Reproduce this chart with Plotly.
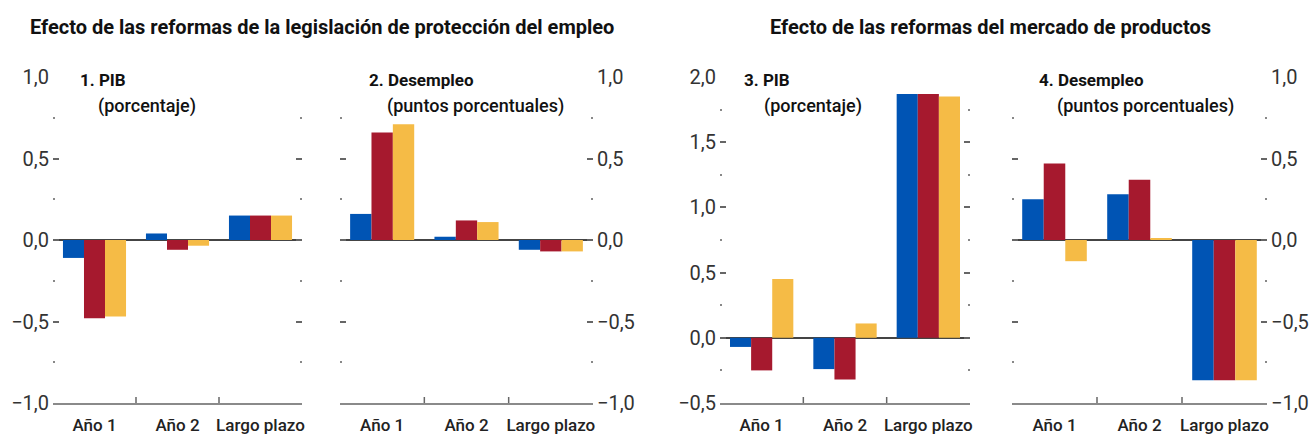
import plotly.graph_objects as go

# ---------------- data ----------------
categories = ["Año 1", "Año 2", "Largo plazo"]

p1_blue = [-0.11, 0.04, 0.15]
p1_red = [-0.48, -0.06, 0.15]
p1_yellow = [-0.47, -0.035, 0.15]

p2_blue = [0.16, 0.02, -0.06]
p2_red = [0.66, 0.12, -0.07]
p2_yellow = [0.71, 0.11, -0.07]

p3_blue = [-0.07, -0.24, 1.87]
p3_red = [-0.25, -0.32, 1.87]
p3_yellow = [0.45, 0.11, 1.85]

p4_blue = [0.25, 0.28, -0.86]
p4_red = [0.47, 0.37, -0.86]
p4_yellow = [-0.13, 0.01, -0.86]

panel_titles = ["1. PIB", "2. Desempleo", "3. PIB", "4. Desempleo"]
panel_units = ["(porcentaje)", "(puntos porcentuales)", "(porcentaje)", "(puntos porcentuales)"]
main_titles = ["Efecto de las reformas de la legislación de protección del empleo",
               "Efecto de las reformas del mercado de productos"]

# ---------------- styling ----------------
W, H = 1311, 437
FONT = "Roboto, sans-serif"
BLUE, RED, YELLOW = "#0054B4", "#A6192E", "#F5BB46"

# pixel layout of the four plot areas
x_px = [(53, 302), (340, 593), (720, 970), (1012, 1267)]
y_px = (77, 403)
y_ranges = [(-1.0, 1.0), (-1.0, 1.0), (-0.5, 2.0), (-1.0, 1.0)]
label_side = ["left", "right", "left", "right"]
title_px = [(78, 96), (367, 385), (742, 762), (1037, 1055)]

panels = [
    (p1_blue, p1_red, p1_yellow),
    (p2_blue, p2_red, p2_yellow),
    (p3_blue, p3_red, p3_yellow),
    (p4_blue, p4_red, p4_yellow),
]

fig = go.Figure()
annotations = []
shapes = []
for i, (b, r, yv) in enumerate(panels):
    sfx = "" if i == 0 else str(i + 1)
    for vals, col, nm in [(b, BLUE, "Serie 1"), (r, RED, "Serie 2"), (yv, YELLOW, "Serie 3")]:
        fig.add_trace(go.Bar(x=categories, y=vals, name=nm, marker=dict(color=col, line=dict(width=0)),
                             xaxis="x" + sfx, yaxis="y" + sfx, showlegend=False))
    dom_x = [x_px[i][0] / W, x_px[i][1] / W]
    dom_y = [1 - y_px[1] / H, 1 - y_px[0] / H]
    fig.update_layout(**{
        "xaxis" + sfx: dict(
            domain=dom_x, anchor="y" + sfx, type="category", range=[-0.5, 2.5],
            showline=True, linecolor="#8a8a8a", linewidth=2, ticks="", showgrid=False,
            tickfont=dict(family=FONT, size=17, color="#222", weight=500), ticklabelstandoff=6,
            automargin=False, fixedrange=True,
        ),
        "yaxis" + sfx: dict(
            domain=dom_y, anchor="x" + sfx, range=list(y_ranges[i]), side=label_side[i],
            dtick=0.5, tick0=0, tickformat=".1f", ticks="inside", ticklen=6, tickwidth=1.5,
            tickcolor="#666", mirror="ticks", showline=False, showgrid=False,
            zeroline=True, zerolinecolor="#444", zerolinewidth=1.5,
            minor=dict(dtick=0.25, tick0=0, ticks="inside", ticklen=2, tickwidth=2, tickcolor="#888"),
            tickfont=dict(family=FONT, size=20, color="#333"), ticklabelstandoff=3,
            automargin=False, fixedrange=True,
        ),
    })
    # category separators on the bottom axis
    for k in range(len(categories) - 1):
        shapes.append(dict(type="line", xref="x" + sfx, yref="y" + sfx, x0=k + 0.5, x1=k + 0.5,
                           ysizemode="pixel", yanchor=y_ranges[i][0], y0=0, y1=6,
                           line=dict(color="#666", width=1.5)))
    annotations.append(dict(text="<b>" + panel_titles[i] + "</b>", xref="paper", yref="paper",
                            x=title_px[i][0] / W, y=1 - 80 / H, xanchor="left", yanchor="middle",
                            showarrow=False, font=dict(family=FONT, size=17, color="#111")))
    annotations.append(dict(text=panel_units[i], xref="paper", yref="paper",
                            x=title_px[i][1] / W, y=1 - 106 / H, xanchor="left", yanchor="middle",
                            showarrow=False, font=dict(family=FONT, size=18, color="#111", weight=500)))

annotations.append(dict(text="<b>" + main_titles[0] + "</b>", xref="paper", yref="paper",
                        x=322 / W, y=1 - 27 / H, xanchor="center", yanchor="middle", showarrow=False,
                        font=dict(family=FONT, size=20, color="#111")))
annotations.append(dict(text="<b>" + main_titles[1] + "</b>", xref="paper", yref="paper",
                        x=990 / W, y=1 - 27 / H, xanchor="center", yanchor="middle", showarrow=False,
                        font=dict(family=FONT, size=20, color="#111")))

fig.update_layout(
    width=W, height=H, margin=dict(l=0, r=0, t=0, b=0, autoexpand=False),
    paper_bgcolor="white", plot_bgcolor="white",
    barmode="group", bargap=0.24, bargroupgap=0,
    separators=",.", annotations=annotations, shapes=shapes,
    font=dict(family=FONT), showlegend=False,
)

fig.write_html("out.html", config={"displayModeBar": False},
               post_script="document.body.style.margin='0';")
